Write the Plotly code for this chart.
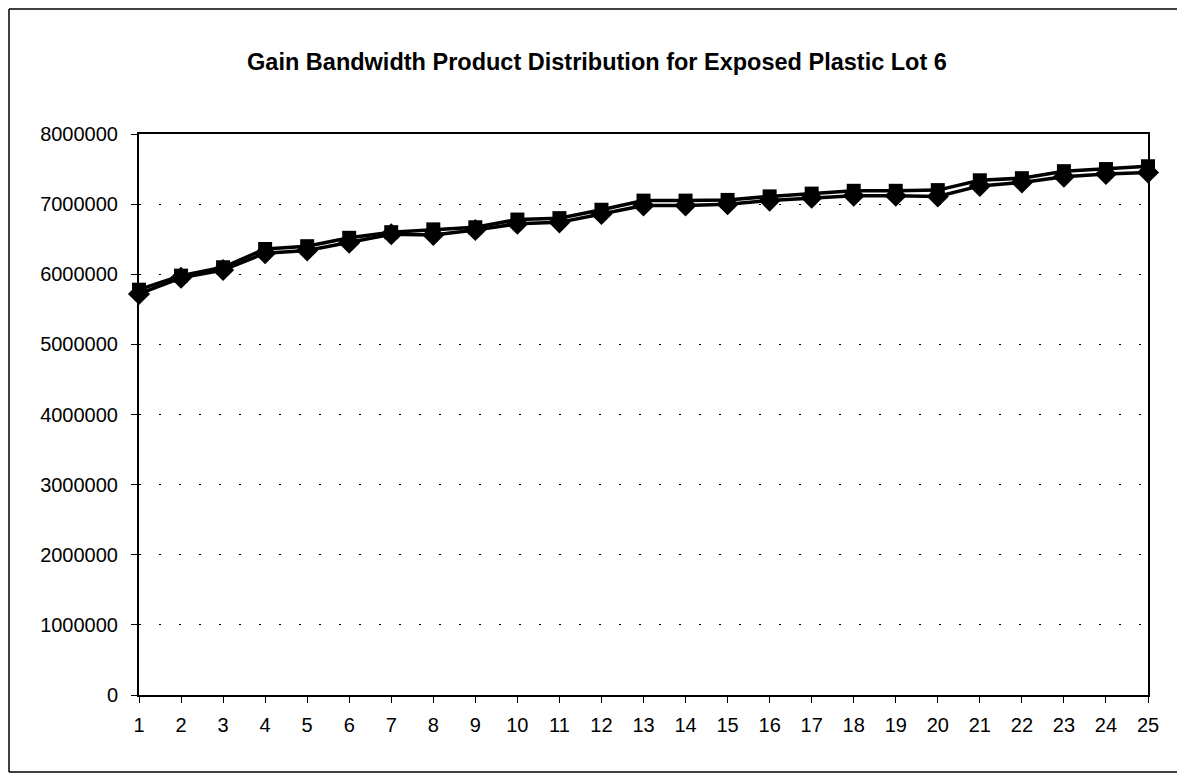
import plotly.graph_objects as go

categories = list(range(1, 26))
# lower series (diamond markers)
series_diamond = [5720000, 5950000, 6060000, 6300000, 6340000, 6450000, 6570000, 6560000, 6630000, 6720000,
                  6740000, 6860000, 6980000, 6980000, 7000000, 7050000, 7090000, 7120000, 7120000, 7110000,
                  7260000, 7310000, 7390000, 7430000, 7450000]
# upper series (square markers)
series_square = [5780000, 5980000, 6100000, 6360000, 6400000, 6520000, 6600000, 6640000, 6670000, 6780000,
                 6800000, 6920000, 7050000, 7050000, 7060000, 7110000, 7150000, 7190000, 7190000, 7200000,
                 7340000, 7370000, 7470000, 7500000, 7540000]
y_ticks = [0, 1000000, 2000000, 3000000, 4000000, 5000000, 6000000, 7000000, 8000000]
title_text = "Gain Bandwidth Product Distribution for Exposed Plastic Lot 6"

fig = go.Figure()
fig.add_trace(go.Scatter(
    x=categories, y=series_diamond, mode="lines+markers",
    line=dict(color="black", width=3.5),
    marker=dict(symbol="diamond", size=17, color="black"),
    showlegend=False, cliponaxis=False))
fig.add_trace(go.Scatter(
    x=categories, y=series_square, mode="lines+markers",
    line=dict(color="black", width=3.5),
    marker=dict(symbol="square", size=14, color="black"),
    showlegend=False, cliponaxis=False))

font_family = "Arial, Liberation Sans, Helvetica, sans-serif"

# page body has an 8px default margin, so the figure is offset by 8px
W, H = 1177, 769
fig.update_layout(
    width=W, height=H,
    margin=dict(l=131, r=37, t=126, b=82),
    paper_bgcolor="white", plot_bgcolor="white",
    font=dict(family=font_family, color="black", size=20),
    title=dict(text="<b>" + title_text + "</b>", x=(597 - 8) / W, xref="container",
               y=1 - (62 - 8) / H, yref="container", yanchor="middle", xanchor="center",
               font=dict(size=23.5, family=font_family, color="black")),
    xaxis=dict(
        range=[1, 25], tickmode="array", tickvals=categories,
        ticktext=[str(c) for c in categories],
        showline=True, linecolor="black", linewidth=2, mirror=True,
        ticks="outside", ticklen=6, tickcolor="black", tickwidth=1,
        showgrid=False, zeroline=False, ticklabelstandoff=5,
        tickfont=dict(size=20)),
    yaxis=dict(
        range=[0, 8000000], tickmode="array", tickvals=y_ticks,
        ticktext=[str(v) for v in y_ticks],
        showline=True, linecolor="black", linewidth=2, mirror=True,
        ticks="outside", ticklen=6, tickcolor="black", tickwidth=1,
        showgrid=True, gridcolor="black", gridwidth=1, griddash="2px,18px",
        zeroline=False, ticklabelstandoff=9,
        tickfont=dict(size=20)),
)

# outer chart frame: left, top and bottom edges (right edge lies outside the picture)
px_l, px_t = 131, 126
pw, ph = W - 131 - 37, H - 126 - 82
fx0 = ((9 - 8) - px_l) / pw
fx1 = ((1300 - 8) - px_l) / pw
fy_top = (px_t + ph - (9 - 8)) / ph
fy_bot = (px_t + ph - (772 - 8)) / ph
frame = dict(color="black", width=1.5)
fig.add_shape(type="line", xref="paper", yref="paper", x0=fx0, x1=fx0, y0=fy_bot, y1=fy_top, line=frame)
fig.add_shape(type="line", xref="paper", yref="paper", x0=fx0, x1=fx1, y0=fy_top, y1=fy_top, line=frame)
fig.add_shape(type="line", xref="paper", yref="paper", x0=fx0, x1=fx1, y0=fy_bot, y1=fy_bot, line=frame)

fig.write_html("out.html")
